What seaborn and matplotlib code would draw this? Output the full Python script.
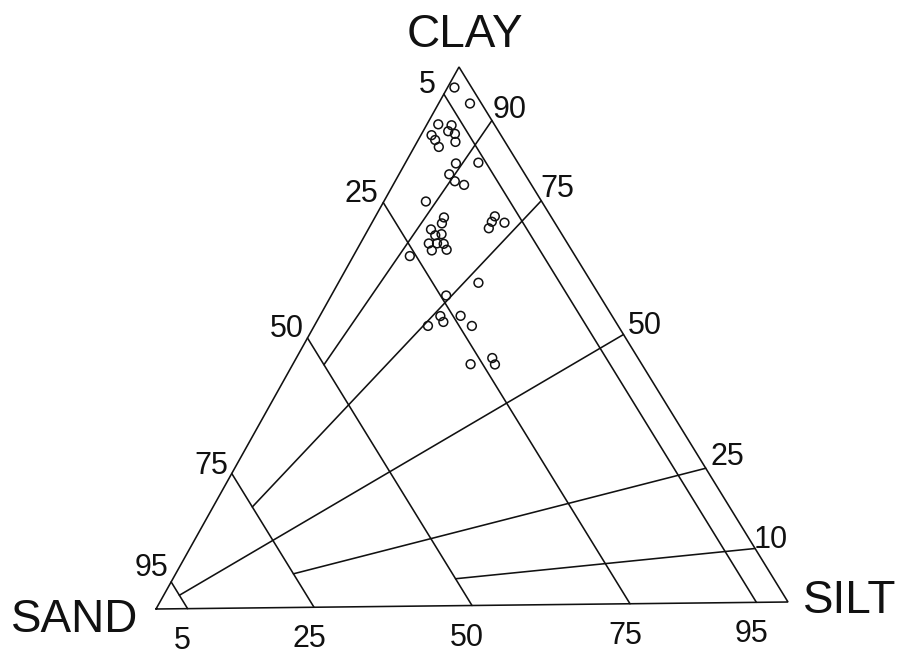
import matplotlib
matplotlib.use("Agg")
import matplotlib.pyplot as plt
import pandas as pd
import seaborn as sns

# Particle-size composition of the samples (percent)
sand = [2.7, 1.8, 8.8, 6.8, 7.9, 7.1, 7.8, 10.9, 10.8, 10.9, 9.8, 6.2, 11.9, 11.7,
        10.6, 18.2, 16.9, 17.8, 20.1, 18.9, 20.0, 21.8, 20.5, 19.5, 22.0, 19.6,
        26.0, 8.8, 9.8, 10.9, 7.9, 17.8, 24.1, 27.0, 27.1, 29.9, 23.8, 23.0,
        26.9, 22.9, 23.1]
silt = [1.1, 5.0, 1.8, 4.0, 4.0, 5.3, 6.1, 1.7, 2.7, 3.9, 8.1, 11.6, 8.0, 9.5,
        11.3, 6.7, 11.0, 11.2, 10.0, 12.1, 11.2, 10.9, 12.2, 13.3, 12.0, 14.3,
        9.0, 19.0, 19.0, 19.1, 21.1, 22.3, 18.3, 19.2, 20.2, 18.1, 22.4, 25.1,
        28.3, 31.2, 32.2]
clay = [96.2, 93.2, 89.4, 89.2, 88.1, 87.6, 86.1, 87.4, 86.5, 85.2, 82.1, 82.2,
        80.1, 78.8, 78.1, 75.1, 72.1, 71.0, 69.9, 69.0, 68.8, 67.3, 67.3, 67.2,
        66.0, 66.1, 65.0, 72.2, 71.2, 70.0, 71.0, 59.9, 57.6, 53.8, 52.7, 52.0,
        53.8, 51.9, 44.8, 45.9, 44.7]

# Grid: lines of equal sand content, and rays of equal clay share of the fines
sand_levels = [95, 75, 50, 25, 5]
silt_labels = ["5", "25", "50", "75", "95"]
clay_rays = [90, 75, 50, 25, 10]
ray_end_sand = [50, 75, 95, 75, 50]

# Corner positions of the triangle on the canvas
SAND_XY = (156.0, 609.0)
SILT_XY = (788.0, 602.0)
CLAY_XY = (459.0, 67.0)


def to_xy(sa, si, cl):
    tot = sa + si + cl
    x = (sa * SAND_XY[0] + si * SILT_XY[0] + cl * CLAY_XY[0]) / tot
    y = (sa * SAND_XY[1] + si * SILT_XY[1] + cl * CLAY_XY[1]) / tot
    return x, y


sns.set_theme(style="white")
plt.rcParams["font.family"] = ["Liberation Sans", "DejaVu Sans"]

fig = plt.figure(figsize=(9, 6.55), dpi=100)
ax = fig.add_axes([0, 0, 1, 1])

lw = 1.15
col = "#111111"

# Outline
corners = [to_xy(100, 0, 0), to_xy(0, 100, 0), to_xy(0, 0, 100), to_xy(100, 0, 0)]
ax.plot([c[0] for c in corners], [c[1] for c in corners], color=col, lw=lw,
        solid_joinstyle="miter")

# Equal-sand lines
for s in sand_levels:
    a = to_xy(s, 0, 100 - s)
    b = to_xy(s, 100 - s, 0)
    ax.plot([a[0], b[0]], [a[1], b[1]], color=col, lw=lw)

# Clay/silt ratio rays from the silt-clay side toward the sand corner
for r, stop in zip(clay_rays, ray_end_sand):
    a = to_xy(0, 100 - r, r)
    b = to_xy(stop, (100 - stop) * (100 - r) / 100, (100 - stop) * r / 100)
    ax.plot([a[0], b[0]], [a[1], b[1]], color=col, lw=lw)

# Samples
pts = pd.DataFrame({"sand": sand, "silt": silt, "clay": clay})
xy = [to_xy(a, b, c) for a, b, c in zip(pts.sand, pts.silt, pts.clay)]
pts["x"] = [p[0] for p in xy]
pts["y"] = [p[1] for p in xy]
sns.scatterplot(data=pts, x="x", y="y", ax=ax, marker="o", s=40,
                facecolor="none", edgecolor=col, linewidth=1.1, zorder=3)
ax.set_xlim(0, 900)
ax.set_ylim(655, 0)
ax.axis("off")

num_fs = 22
# Sand scale on the left side (label offsets in pixels)
left_off = {95: (-20, 6), 75: (-20, -1), 50: (-21, 1), 25: (-22, 1), 5: (-17, 1)}
for s in sand_levels:
    ax.annotate(str(s), xy=to_xy(s, 0, 100 - s), xytext=left_off[s],
                textcoords="offset pixels", ha="center", va="baseline",
                fontsize=num_fs, color=col)
# Silt scale along the base
for s, lab in zip(sand_levels, silt_labels):
    ax.annotate(lab, xy=to_xy(s, 100 - s, 0), xytext=(-5, -40),
                textcoords="offset pixels", ha="center", va="baseline",
                fontsize=num_fs, color=col)
# Clay scale on the right side
right_off = {90: (18, 2), 75: (16, 4), 50: (21, 1), 25: (22, 3), 10: (16, 0)}
for r in clay_rays:
    ax.annotate(str(r), xy=to_xy(0, 100 - r, r), xytext=right_off[r],
                textcoords="offset pixels", ha="center", va="baseline",
                fontsize=num_fs, color=col)

corner_fs = 33
ax.annotate("CLAY", xy=to_xy(0, 0, 100), xytext=(6, 20),
            textcoords="offset pixels", ha="center", va="baseline",
            fontsize=corner_fs, color=col)
ax.annotate("SAND", xy=to_xy(100, 0, 0), xytext=(-18, -23),
            textcoords="offset pixels", ha="right", va="baseline",
            fontsize=corner_fs, color=col)
ax.annotate("SILT", xy=to_xy(0, 100, 0), xytext=(15, -11),
            textcoords="offset pixels", ha="left", va="baseline",
            fontsize=corner_fs, color=col, annotation_clip=False)

fig.savefig("out.png", dpi=100, facecolor="white")
